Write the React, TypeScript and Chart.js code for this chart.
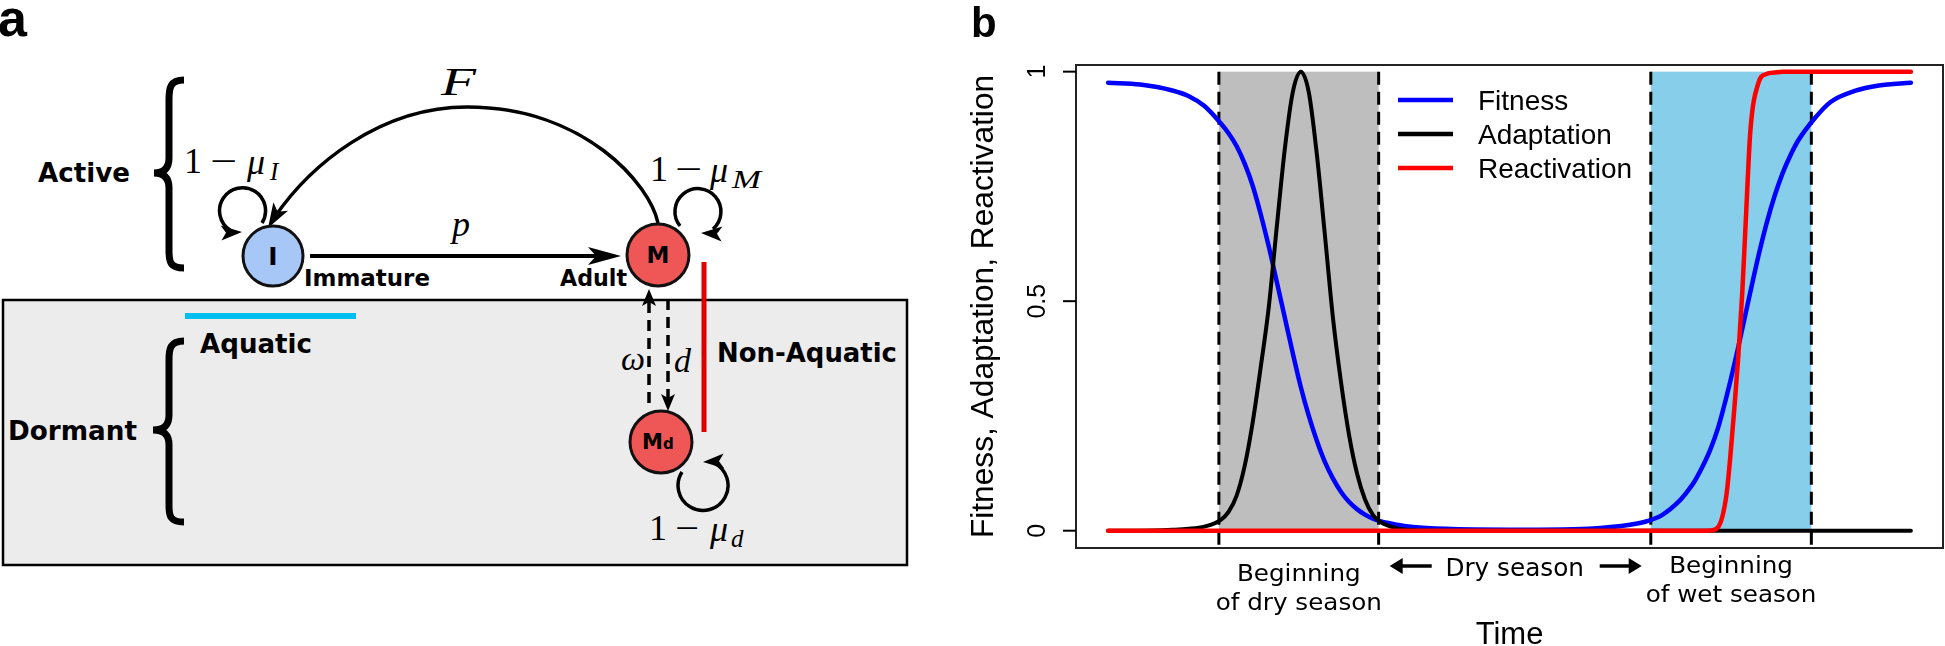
import React, { useEffect, useRef } from "react";
import { Chart, registerables } from "chart.js";
Chart.register(...registerables);

// ---------- data (panel b) ----------
const timePoints = [0, 4, 8, 10, 12, 14, 15, 16, 17, 18, 19, 20, 21, 22, 23, 24, 25, 26, 27, 28, 29, 30, 31, 32, 33, 34, 36, 38, 42, 50, 58, 62, 65, 67, 69, 71, 72, 73, 74, 75, 76, 77, 77.5, 78, 78.5, 79, 79.5, 80, 81, 82, 83, 84, 85, 86, 88, 90, 93, 96, 100];
const fitness = [0.976, 0.972, 0.959, 0.947, 0.925, 0.888, 0.866, 0.838, 0.8, 0.752, 0.69, 0.62, 0.543, 0.465, 0.387, 0.313, 0.25, 0.196, 0.15, 0.114, 0.085, 0.063, 0.047, 0.035, 0.026, 0.02, 0.013, 0.008, 0.004, 0.002, 0.003, 0.007, 0.013, 0.02, 0.034, 0.062, 0.082, 0.106, 0.138, 0.176, 0.225, 0.29, 0.325, 0.362, 0.4, 0.44, 0.48, 0.52, 0.598, 0.668, 0.728, 0.778, 0.818, 0.851, 0.898, 0.934, 0.958, 0.97, 0.976];
const adaptation = [0, 0, 0.002, 0.004, 0.009, 0.023, 0.041, 0.076, 0.14, 0.235, 0.355, 0.485, 0.66, 0.83, 0.955, 1.0, 0.955, 0.82, 0.645, 0.465, 0.325, 0.21, 0.125, 0.068, 0.034, 0.018, 0.005, 0.001, 0, 0, 0, 0, 0, 0, 0, 0, 0, 0, 0, 0, 0, 0, 0, 0, 0, 0, 0, 0, 0, 0, 0, 0, 0, 0, 0, 0, 0, 0, 0];
const reactivation = [0, 0, 0, 0, 0, 0, 0, 0, 0, 0, 0, 0, 0, 0, 0, 0, 0, 0, 0, 0, 0, 0, 0, 0, 0, 0, 0, 0, 0, 0, 0, 0, 0, 0, 0, 0, 0, 0, 0, 0.0005, 0.008, 0.075, 0.16, 0.265, 0.38, 0.52, 0.7, 0.87, 0.975, 0.995, 0.998, 1, 1, 1, 1, 1, 1, 1, 1];
const seriesLabels = ["Fitness", "Adaptation", "Reactivation"];
const seriesColors = ["#0000ff", "#000000", "#ff0000"];
const seasonBounds = [13.8, 33.7, 67.6, 87.6];
const yTicks = [0, 0.5, 1];
const yTickLabels = ["0", "0.5", "1"];
const dryLabel = ["Beginning", "of dry season"];
const wetLabel = ["Beginning", "of wet season"];
const midLabel = "Dry season";
const xTitle = "Time";
const yTitle = "Fitness, Adaptation, Reactivation";

const SANS = '"Liberation Sans", Arial, sans-serif';
const DEJA = '"DejaVu Sans", sans-serif';

function stretchText(ctx: CanvasRenderingContext2D, text: string, cx: number, base: number, sx: number) {
  ctx.save();
  ctx.translate(cx, base);
  ctx.scale(sx, 1);
  ctx.textAlign = "center";
  ctx.textBaseline = "alphabetic";
  ctx.fillText(text, 0, 0);
  ctx.restore();
}

function hArrow(ctx: CanvasRenderingContext2D, x0: number, x1: number, yy: number) {
  const dir = Math.sign(x1 - x0);
  const headLen = 13;
  ctx.beginPath();
  ctx.lineWidth = 3.5;
  ctx.moveTo(x0, yy);
  ctx.lineTo(x1 - dir * headLen * 0.8, yy);
  ctx.stroke();
  ctx.beginPath();
  ctx.moveTo(x1, yy);
  ctx.lineTo(x1 - dir * headLen, yy - 8);
  ctx.lineTo(x1 - dir * headLen, yy + 8);
  ctx.closePath();
  ctx.fill();
}

const decorPlugin = {
  id: "decor",
  beforeDatasetsDraw(chart: any) {
    const { ctx, chartArea, scales } = chart;
    const x = scales.x, y = scales.y;
    const y0 = y.getPixelForValue(0), y1 = y.getPixelForValue(1);
    ctx.save();
    const xs = seasonBounds.map((b) => x.getPixelForValue(b));
    ctx.fillStyle = "#bebebe";
    ctx.fillRect(xs[0], y1, xs[1] - xs[0], y0 - y1);
    ctx.fillStyle = "#87ceeb";
    ctx.fillRect(xs[2], y1, xs[3] - xs[2], y0 - y1);
    ctx.strokeStyle = "#000";
    ctx.lineWidth = 3;
    ctx.setLineDash([13, 7]);
    xs.forEach((px) => {
      ctx.beginPath();
      ctx.moveTo(px, y1);
      ctx.lineTo(px, chartArea.bottom);
      ctx.stroke();
    });
    ctx.restore();
  },
  afterDraw(chart: any) {
    const { ctx, chartArea, scales } = chart;
    const x = scales.x, y = scales.y;
    const L = chartArea.left, T = chartArea.top, R = chartArea.right, B = chartArea.bottom;
    ctx.save();
    ctx.strokeStyle = "#222";
    ctx.lineWidth = 2;
    ctx.strokeRect(L, T, R - L, B - T);
    ctx.fillStyle = "#000";
    ctx.strokeStyle = "#000";
    ctx.lineWidth = 2;
    yTicks.forEach((v, i) => {
      const py = y.getPixelForValue(v);
      ctx.beginPath();
      ctx.moveTo(L - 13, py);
      ctx.lineTo(L, py);
      ctx.stroke();
      ctx.save();
      ctx.translate(L - 31, py);
      ctx.rotate(-Math.PI / 2);
      ctx.font = `25px ${SANS}`;
      ctx.textAlign = "center";
      ctx.textBaseline = "alphabetic";
      ctx.fillText(yTickLabels[i], 0, 0);
      ctx.restore();
    });
    ctx.save();
    ctx.translate(L - 83, (T + B) / 2);
    ctx.rotate(-Math.PI / 2);
    ctx.font = `31.7px ${SANS}`;
    ctx.textAlign = "center";
    ctx.fillText(yTitle, 0, 0);
    ctx.restore();
    ctx.font = `31px ${SANS}`;
    ctx.textAlign = "center";
    ctx.fillText(xTitle, (L + R) / 2, B + 96);
    seriesLabels.forEach((lab, i) => {
      const ry = T + 35 + i * 34;
      ctx.strokeStyle = seriesColors[i];
      ctx.lineWidth = 4.5;
      ctx.beginPath();
      ctx.moveTo(L + 322, ry);
      ctx.lineTo(L + 377, ry);
      ctx.stroke();
      ctx.fillStyle = "#000";
      ctx.font = `28px ${SANS}`;
      ctx.textAlign = "left";
      ctx.fillText(lab, L + 402, ry + 10.3);
    });
    const xs = seasonBounds.map((b) => x.getPixelForValue(b));
    ctx.fillStyle = "#000";
    ctx.font = `23px ${DEJA}`;
    const dryC = (xs[0] + xs[1]) / 2;
    stretchText(ctx, dryLabel[0], dryC, B + 33, 1.07);
    stretchText(ctx, dryLabel[1], dryC, B + 62, 1.07);
    const wetC = (xs[2] + xs[3]) / 2;
    stretchText(ctx, wetLabel[0], wetC, B + 25, 1.07);
    stretchText(ctx, wetLabel[1], wetC, B + 54, 1.07);
    const midC = (xs[1] + xs[2]) / 2;
    ctx.font = `24px ${DEJA}`;
    stretchText(ctx, midLabel, midC, B + 28, 1.03);
    ctx.strokeStyle = "#000";
    hArrow(ctx, midC - 83, midC - 125, B + 18);
    hArrow(ctx, midC + 85, midC + 127, B + 18);
    ctx.font = `bold 42px ${SANS}`;
    ctx.textAlign = "left";
    ctx.fillText("b", 11, 37);
    ctx.restore();
  },
};

function head(tx: number, ty: number, ang: number, len: number, half: number, notch: number) {
  const c = Math.cos(ang), s = Math.sin(ang);
  const bx = tx - len * c, by = ty - len * s;
  const p1 = [bx - half * s, by + half * c];
  const p2 = [bx + half * s, by - half * c];
  const n = [tx - (len - notch) * c, ty - (len - notch) * s];
  return `${tx},${ty} ${p1[0]},${p1[1]} ${n[0]},${n[1]} ${p2[0]},${p2[1]}`;
}

function Diagram() {
  const bold = { fontFamily: "DejaVu Sans", fontWeight: "bold" as const };
  const serif = { fontFamily: "Liberation Serif, Times New Roman, serif" };
  return (
    <svg width={960} height={646} style={{ position: "absolute", left: 0, top: 0 }}>
      <text x={-2} y={36} fontFamily="Liberation Sans" fontWeight="bold" fontSize={52}>a</text>
      <rect x={3} y={300} width={904} height={265} fill="#ececec" stroke="#000" strokeWidth={2.5} />
      <line x1={185} y1={316} x2={356} y2={316} stroke="#00bff0" strokeWidth={6} />
      <line x1={704} y1={262} x2={704} y2={432} stroke="#dd0000" strokeWidth={5} />
      <path d="M 184 80 C 170 80 169 88 169 100 L 169 158 C 169 168 164 173 154 173 C 164 173 169 178 169 188 L 169 250 C 169 262 170 268 184 268" fill="none" stroke="#000" strokeWidth={7} />
      <path d="M 184 341 C 170 341 169 349 169 360 L 169 415 C 169 425 164 430 153 430 C 164 430 169 435 169 445 L 169 505 C 169 516 170 522 184 522" fill="none" stroke="#000" strokeWidth={7} />
      <path d="M 658 223 C 650 185 585 107 467 107 C 380 107 310 165 274 218" fill="none" stroke="#000" strokeWidth={3.5} />
      <polygon points={head(268, 228, Math.atan2(61, -36), 25, 8.5, 6)} fill="#000" />
      <line x1={310} y1={256} x2={600} y2={256} stroke="#000" strokeWidth={4} />
      <polygon points={head(621, 256, 0, 33, 9, 8)} fill="#000" />
      <path d="M 262 223 A 23 23 0 1 0 230 230" fill="none" stroke="#000" strokeWidth={3.5} />
      <polygon points={head(242, 232, -0.05, 21, 7.5, 5)} fill="#000" />
      <path d="M 680 226 A 23 23 0 1 1 713 229" fill="none" stroke="#000" strokeWidth={3.5} />
      <polygon points={head(701, 233, Math.PI + 0.05, 21, 7.5, 5)} fill="#000" />
      <path d="M 682 472 A 25 25 0 1 0 714 463" fill="none" stroke="#000" strokeWidth={3.5} />
      <polygon points={head(703, 462, Math.PI - 0.05, 21, 7.5, 5)} fill="#000" />
      <line x1={649} y1={403} x2={649} y2={300} stroke="#000" strokeWidth={3.5} strokeDasharray="11 7" />
      <polygon points={head(649, 289, -Math.PI / 2, 17, 7, 4)} fill="#000" />
      <line x1={668} y1={299} x2={668} y2={400} stroke="#000" strokeWidth={3.5} strokeDasharray="11 7" />
      <polygon points={head(668, 411, Math.PI / 2, 17, 7, 4)} fill="#000" />
      <circle cx={273} cy={256} r={30} fill="#a7c7f7" stroke="#111" strokeWidth={3} />
      <text x={273} y={265} textAnchor="middle" fontSize={25} {...bold}>I</text>
      <circle cx={658} cy={255} r={31} fill="#ef5656" stroke="#111" strokeWidth={3} />
      <text x={658} y={263} textAnchor="middle" fontSize={23} {...bold}>M</text>
      <circle cx={661} cy={442} r={31} fill="#ef5656" stroke="#111" strokeWidth={3} />
      <text x={642} y={449} fontSize={21} {...bold}>M<tspan fontSize={15}>d</tspan></text>
      <text x={38} y={182} fontSize={26} textLength={92} lengthAdjust="spacingAndGlyphs" {...bold}>Active</text>
      <text x={304} y={286} fontSize={23} textLength={126} lengthAdjust="spacingAndGlyphs" {...bold}>Immature</text>
      <text x={560} y={286} fontSize={23} textLength={67} lengthAdjust="spacingAndGlyphs" {...bold}>Adult</text>
      <text x={200} y={353} fontSize={26} textLength={112} lengthAdjust="spacingAndGlyphs" {...bold}>Aquatic</text>
      <text x={8} y={440} fontSize={26} textLength={129} lengthAdjust="spacingAndGlyphs" {...bold}>Dormant</text>
      <text x={717} y={362} fontSize={26} textLength={180} lengthAdjust="spacingAndGlyphs" {...bold}>Non-Aquatic</text>
      <text x={441} y={95} fontSize={40} fontStyle="italic" textLength={35} lengthAdjust="spacingAndGlyphs" {...serif}>F</text>
      <text x={452} y={236} fontSize={36} fontStyle="italic" {...serif}>p</text>
      <text x={184} y={173} fontSize={36} {...serif}>1</text>
      <text x={210} y={173} fontSize={36} textLength={27} lengthAdjust="spacingAndGlyphs" {...serif}>−</text>
      <text x={247} y={174} fontSize={36} fontStyle="italic" {...serif}>μ</text>
      <text x={270} y={180} fontSize={25} fontStyle="italic" {...serif}>I</text>
      <text x={650} y={181} fontSize={36} {...serif}>1</text>
      <text x={675} y={181} fontSize={36} textLength={27} lengthAdjust="spacingAndGlyphs" {...serif}>−</text>
      <text x={710} y={182} fontSize={36} fontStyle="italic" {...serif}>μ</text>
      <text x={732} y={188} fontSize={25} fontStyle="italic" textLength={29} lengthAdjust="spacingAndGlyphs" {...serif}>M</text>
      <text x={649} y={540} fontSize={36} {...serif}>1</text>
      <text x={675} y={540} fontSize={36} textLength={24} lengthAdjust="spacingAndGlyphs" {...serif}>−</text>
      <text x={710} y={541} fontSize={36} fontStyle="italic" {...serif}>μ</text>
      <text x={731} y={547} fontSize={25} fontStyle="italic" {...serif}>d</text>
      <text x={621} y={370} fontSize={34} fontStyle="italic" {...serif}>ω</text>
      <text x={674} y={372} fontSize={34} fontStyle="italic" {...serif}>d</text>
    </svg>
  );
}

export default function App() {
  const ref = useRef<HTMLCanvasElement | null>(null);
  useEffect(() => {
    if (!ref.current) return;
    const series = [fitness, adaptation, reactivation];
    const chart = new Chart(ref.current, {
      type: "line",
      data: {
        datasets: series.map((vals, i) => ({
          label: seriesLabels[i],
          data: timePoints.map((t, j) => ({ x: t, y: vals[j] })),
          borderColor: seriesColors[i],
          backgroundColor: seriesColors[i],
          borderWidth: i === 1 ? 4 : 4.5,
          pointRadius: 0,
          cubicInterpolationMode: "monotone" as const,
          borderCapStyle: "round" as const,
          borderJoinStyle: "round" as const,
          fill: false,
          order: 3 - i,
        })),
      },
      options: {
        responsive: false,
        animation: false,
        devicePixelRatio: 1,
        layout: { padding: { left: 116, right: 2, top: 65, bottom: 98 } },
        scales: {
          x: { type: "linear", min: -4, max: 104, display: false },
          y: { type: "linear", min: -0.0377, max: 1.0145, display: false },
        },
        plugins: { legend: { display: false }, tooltip: { enabled: false } },
      },
      plugins: [decorPlugin],
    } as any);
    return () => chart.destroy();
  }, []);
  return (
    <div style={{ position: "absolute", left: 0, top: 0, width: 1945, height: 646, background: "#fff", overflow: "hidden" }}>
      <Diagram />
      <canvas ref={ref} width={985} height={646} style={{ position: "absolute", left: 960, top: 0, width: 985, height: 646 }} />
    </div>
  );
}
